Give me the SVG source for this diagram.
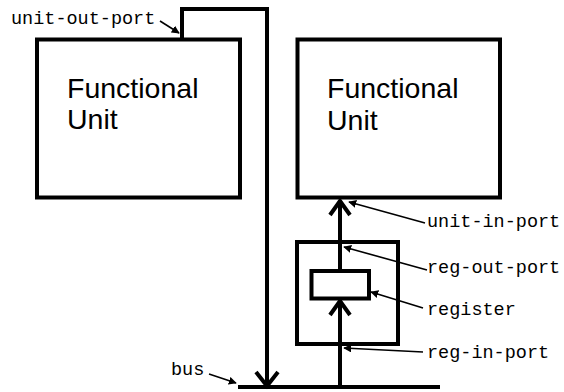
<svg xmlns="http://www.w3.org/2000/svg" width="564" height="392" viewBox="0 0 564 392">
  <style>
    .box { fill: none; stroke: #000; stroke-width: 4; }
    .wire { fill: none; stroke: #000; stroke-width: 4; stroke-linejoin: miter; }
    .chev { fill: none; stroke: #000; stroke-width: 4; stroke-linejoin: miter; stroke-linecap: butt; }
    .lead { fill: none; stroke: #000; stroke-width: 1.6; }
    .title { font-family: "Liberation Sans", Arial, sans-serif; font-size: 28.5px; fill: #000; }
    .label { font-family: "Liberation Mono", "Courier New", monospace; font-size: 18.5px; fill: #000; }
  </style>
  <defs>
    <marker id="tip" viewBox="0 0 10 10" refX="9" refY="5" markerWidth="8" markerHeight="8" markerUnits="userSpaceOnUse" orient="auto">
      <path d="M0,0 L10,5 L0,10 z" fill="#000"/>
    </marker>
  </defs>
  <rect width="564" height="392" fill="#fff"/>

  <g id="unit-left">
    <rect class="box" x="37" y="39.5" width="203" height="158"/>
    <text class="title" x="67" y="97.5">Functional</text>
    <text class="title" x="67" y="129">Unit</text>
  </g>

  <g id="unit-right">
    <rect class="box" x="297.5" y="39.5" width="202.5" height="158"/>
    <text class="title" x="327" y="98">Functional</text>
    <text class="title" x="327" y="130">Unit</text>
  </g>

  <g id="register-port">
    <rect class="box" x="297" y="242" width="101" height="102"/>
  </g>

  <g id="register">
    <rect class="box" x="311.5" y="271" width="57.5" height="27.5"/>
  </g>

  <g id="bus">
    <line class="wire" x1="238" y1="387" x2="440" y2="387"/>
  </g>

  <g id="connectors">
    <!-- output of the left unit onto the bus -->
    <polyline class="wire" points="182,39.5 182,9 267,9 267,385"/>
    <polyline class="chev" points="256,372 267,386 278,372"/>
    <!-- bus to register input -->
    <line class="wire" x1="340" y1="387" x2="340" y2="300"/>
    <polyline class="chev" points="330,315 340,301 350,315"/>
    <!-- register output to right unit input -->
    <line class="wire" x1="340" y1="271" x2="340" y2="200"/>
    <polyline class="chev" points="330,215 340,201 350,215"/>
  </g>

  <g id="labels">
    <text class="label" x="11" y="24">unit-out-port</text>
    <line class="lead" x1="160" y1="21" x2="179" y2="33" marker-end="url(#tip)"/>

    <text class="label" x="427" y="227">unit-in-port</text>
    <line class="lead" x1="425" y1="223" x2="349" y2="202" marker-end="url(#tip)"/>

    <text class="label" x="427" y="273">reg-out-port</text>
    <line class="lead" x1="427" y1="270" x2="344" y2="247" marker-end="url(#tip)"/>

    <text class="label" x="427" y="315">register</text>
    <line class="lead" x1="423" y1="308" x2="371" y2="292" marker-end="url(#tip)"/>

    <text class="label" x="427" y="358">reg-in-port</text>
    <line class="lead" x1="423" y1="352" x2="344" y2="348" marker-end="url(#tip)"/>

    <text class="label" x="171" y="375">bus</text>
    <line class="lead" x1="209" y1="374" x2="236" y2="383" marker-end="url(#tip)"/>
  </g>
</svg>
